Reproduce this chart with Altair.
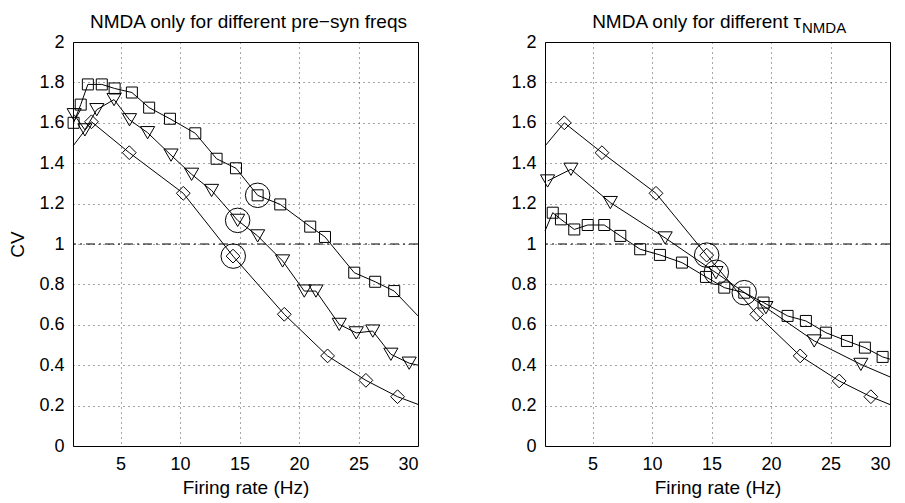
import altair as alt
import pandas as pd

FONT = "Liberation Sans"
X_DOMAIN = [1, 30]
Y_DOMAIN = [0, 2]
X_TICKS = [5, 10, 15, 20, 25, 30]
Y_TICKS = [0, 0.2, 0.4, 0.6, 0.8, 1, 1.2, 1.4, 1.6, 1.8, 2]

# ---------------- Left panel: different pre-syn freqs ----------------
L_SQ_X = [1.05, 1.65, 2.25, 3.42, 4.5, 5.95, 7.4, 9.15, 11.28, 13.07, 14.7, 16.52, 18.42, 20.94, 22.18, 24.64, 26.4, 28.0]
L_SQ_Y = [1.60, 1.69, 1.79, 1.79, 1.77, 1.75, 1.675, 1.62, 1.548, 1.422, 1.375, 1.241, 1.196, 1.086, 1.035, 0.858, 0.813, 0.767]
L_SQ_LINE_X = L_SQ_X + [30]
L_SQ_LINE_Y = L_SQ_Y + [0.644]

L_TR_X = [1.1, 2.0, 3.0, 4.45, 5.75, 7.27, 9.24, 10.97, 12.65, 14.84, 16.52, 18.62, 20.44, 21.42, 23.38, 24.81, 26.2, 27.72, 29.26]
L_TR_Y = [1.64, 1.565, 1.665, 1.715, 1.615, 1.551, 1.44, 1.345, 1.265, 1.117, 1.04, 0.916, 0.767, 0.767, 0.602, 0.56, 0.569, 0.454, 0.41]
L_TR_LINE_X = L_TR_X + [30]
L_TR_LINE_Y = L_TR_Y + [0.40]

L_DI_X = [2.55, 5.73, 10.27, 14.45, 18.76, 22.40, 25.62, 28.28]
L_DI_Y = [1.605, 1.452, 1.251, 0.94, 0.652, 0.446, 0.325, 0.244]
L_DI_LINE_X = [1.0] + L_DI_X + [30]
L_DI_LINE_Y = [1.485] + L_DI_Y + [0.206]

L_CIRCLE_X = [16.52, 14.84, 14.47]
L_CIRCLE_Y = [1.241, 1.117, 0.94]

# ---------------- Right panel: different tau_NMDA ----------------
R_SQ_X = [1.65, 2.34, 3.46, 4.59, 5.98, 7.33, 9.0, 10.66, 12.51, 14.53, 16.07, 17.75, 19.37, 21.39, 22.93, 24.61, 26.38, 27.89, 29.38]
R_SQ_Y = [1.155, 1.122, 1.072, 1.094, 1.094, 1.04, 0.974, 0.946, 0.908, 0.837, 0.784, 0.759, 0.71, 0.644, 0.619, 0.561, 0.52, 0.487, 0.441]
R_SQ_LINE_X = [1.0] + R_SQ_X + [30]
R_SQ_LINE_Y = [1.064] + R_SQ_Y + [0.43]

R_TR_X = [1.22, 3.18, 6.49, 11.1, 15.37, 19.57, 23.63, 27.55]
R_TR_Y = [1.312, 1.37, 1.205, 1.03, 0.858, 0.685, 0.52, 0.404]
R_TR_LINE_X = R_TR_X + [30]
R_TR_LINE_Y = R_TR_Y + [0.342]

R_DI_X = [2.62, 5.79, 10.33, 14.59, 18.8, 22.45, 25.73, 28.39]
R_DI_Y = [1.60, 1.452, 1.251, 0.945, 0.652, 0.446, 0.322, 0.244]
R_DI_LINE_X = [1.0] + R_DI_X + [30]
R_DI_LINE_Y = [1.485] + R_DI_Y + [0.205]

R_CIRCLE_X = [14.59, 15.4, 17.75]
R_CIRCLE_Y = [0.945, 0.86, 0.759]

LEFT_TITLE = ["NMDA only for different pre\u2212syn freqs"]
RIGHT_TITLE = ["NMDA only for different \u03c4"]
RIGHT_SUB = ["NMDA"]

W, H = 345, 404
TITLE_SIZE = 19


def xenc(show_title):
    return alt.X("x:Q", scale=alt.Scale(domain=X_DOMAIN, nice=False, zero=False),
                 axis=alt.Axis(values=X_TICKS, title="Firing rate (Hz)" if show_title else None))


def yenc(show_title):
    return alt.Y("y:Q", scale=alt.Scale(domain=Y_DOMAIN, nice=False),
                 axis=alt.Axis(values=Y_TICKS, format="~g", title="CV" if show_title else None))


def text_layer(txt, x, y, size, align):
    return alt.Chart(pd.DataFrame({"t": txt})).mark_text(
        align=align, baseline="alphabetic", fontSize=size, font=FONT, color="black").encode(
        text="t:N", x=alt.value(x), y=alt.value(y))


def panel(series, cx, cy, ytitle, titles):
    layers = []
    rule = alt.Chart(pd.DataFrame({"y": [1.0]})).mark_rule(
        color="black", strokeWidth=1, strokeDash=[9, 4, 2, 4]).encode(y=yenc(ytitle))
    layers.append(rule)
    for (lx, ly, mx, my, shape, size) in series:
        ldf = pd.DataFrame({"x": lx, "y": ly})
        mdf = pd.DataFrame({"x": mx, "y": my})
        layers.append(alt.Chart(ldf).mark_line(color="black", strokeWidth=1).encode(
            x=xenc(True), y=yenc(ytitle)))
        layers.append(alt.Chart(mdf).mark_point(shape=shape, size=size, filled=False,
                                                color="black", strokeWidth=1, opacity=1).encode(
            x=xenc(True), y=yenc(ytitle)))
    cdf = pd.DataFrame({"x": cx, "y": cy})
    layers.append(alt.Chart(cdf).mark_point(shape="circle", size=600, filled=False,
                                            color="black", strokeWidth=1, opacity=1).encode(
        x=xenc(True), y=yenc(ytitle)))
    layers.extend(titles)
    return alt.layer(*layers).properties(width=W, height=H)


left = panel([
    (L_SQ_LINE_X, L_SQ_LINE_Y, L_SQ_X, L_SQ_Y, "square", 121),
    (L_TR_LINE_X, L_TR_LINE_Y, L_TR_X, L_TR_Y, "triangle-down", 200),
    (L_DI_LINE_X, L_DI_LINE_Y, L_DI_X, L_DI_Y, "diamond", 190),
], L_CIRCLE_X, L_CIRCLE_Y, True,
    [text_layer(LEFT_TITLE, W / 2 + 3, -14, TITLE_SIZE, "center")])

right = panel([
    (R_SQ_LINE_X, R_SQ_LINE_Y, R_SQ_X, R_SQ_Y, "square", 121),
    (R_TR_LINE_X, R_TR_LINE_Y, R_TR_X, R_TR_Y, "triangle-down", 200),
    (R_DI_LINE_X, R_DI_LINE_Y, R_DI_X, R_DI_Y, "diamond", 190),
], R_CIRCLE_X, R_CIRCLE_Y, False,
    [text_layer(RIGHT_TITLE, 256, -14, TITLE_SIZE, "right"),
     text_layer(RIGHT_SUB, 257, -9, 15, "left")])

chart = alt.hconcat(left, right, spacing=89).properties(
    padding={"top": 4, "left": 0, "right": 0, "bottom": 0}, background="white"
).configure_view(
    stroke="black", strokeWidth=1
).configure_axis(
    labelFont=FONT, titleFont=FONT, labelFontSize=18, titleFontSize=19,
    labelColor="black", titleColor="black", titleFontWeight="normal",
    grid=True, gridColor="black", gridDash=[1, 4], gridOpacity=0.7, gridWidth=1,
    ticks=False, domain=False, labelPadding=9,
).configure_axisY(titlePadding=11).configure_axisX(titlePadding=5)

chart.save("out.html", embed_options={"renderer": "svg", "actions": False})
